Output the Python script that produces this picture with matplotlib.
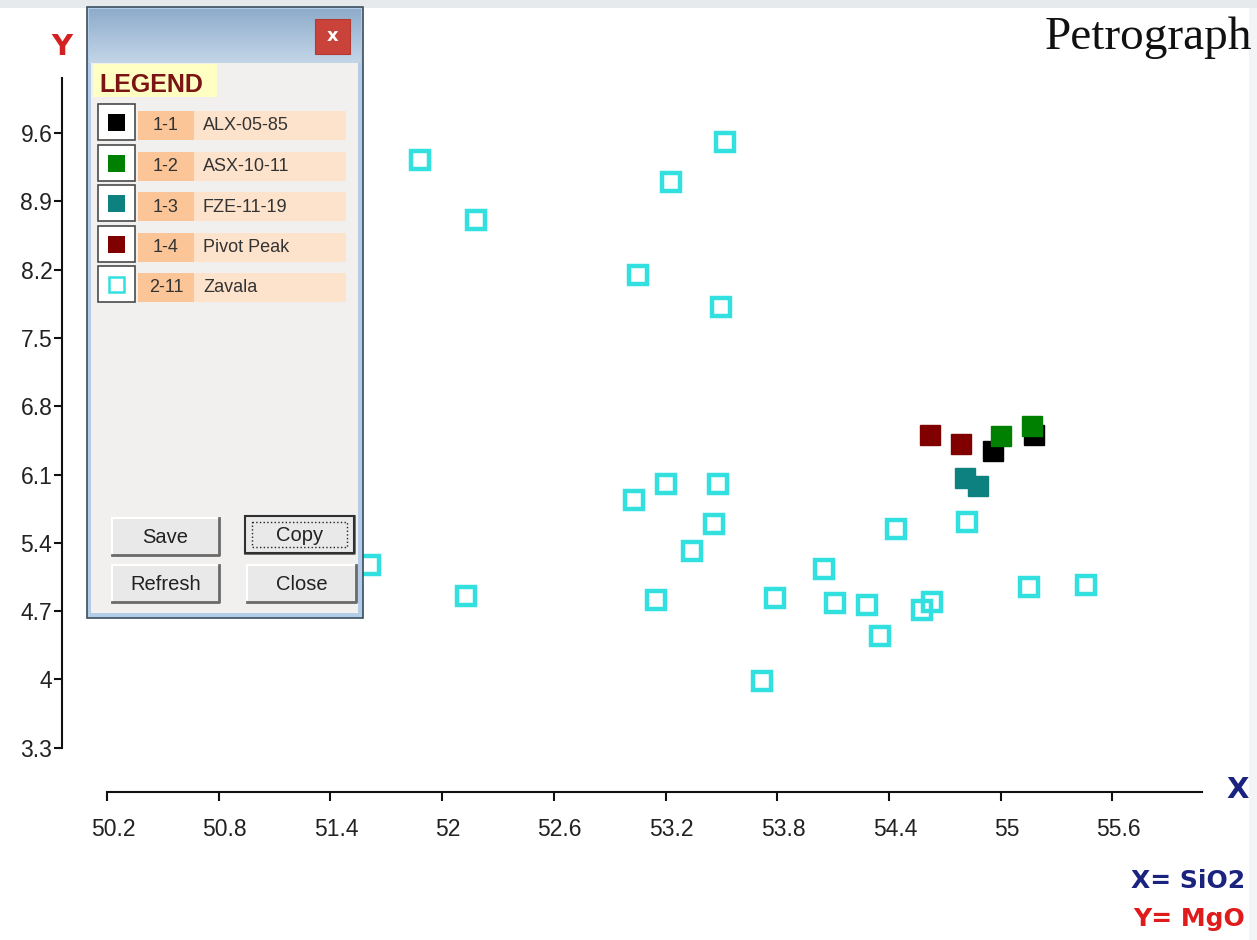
import numpy as np
import matplotlib.pyplot as plt
from matplotlib.patches import Rectangle
from matplotlib.colors import LinearSegmentedColormap
from matplotlib.transforms import ScaledTranslation

# values (X = SiO2, Y = MgO)
zavala_sio2 = [51.88, 52.18, 53.52, 53.23, 53.05, 53.50, 53.03, 53.20, 53.48, 53.46, 53.34, 51.61, 52.13,
               53.15, 53.79, 53.72, 54.05, 54.11, 54.28, 54.35, 54.44, 54.58, 54.63, 54.82, 55.15, 55.46]
zavala_mgo = [9.32, 8.71, 9.51, 9.10, 8.15, 7.82, 5.84, 6.00, 6.00, 5.59, 5.32, 5.17, 4.85,
              4.81, 4.83, 3.98, 5.13, 4.78, 4.76, 4.44, 5.54, 4.71, 4.79, 5.61, 4.95, 4.97]
alx_sio2 = [54.96, 55.18]
alx_mgo = [6.34, 6.51]
asx_sio2 = [55.00, 55.17]
asx_mgo = [6.49, 6.60]
fze_sio2 = [54.81, 54.88]
fze_mgo = [6.06, 5.98]
pivot_sio2 = [54.62, 54.79]
pivot_mgo = [6.51, 6.41]

x_ticks = [50.2, 50.8, 51.4, 52.0, 52.6, 53.2, 53.8, 54.4, 55.0, 55.6]
x_ticklabels = ['50.2', '50.8', '51.4', '52', '52.6', '53.2', '53.8', '54.4', '55', '55.6']
y_ticks = [3.3, 4.0, 4.7, 5.4, 6.1, 6.8, 7.5, 8.2, 8.9, 9.6]
y_ticklabels = ['3.3', '4', '4.7', '5.4', '6.1', '6.8', '7.5', '8.2', '8.9', '9.6']

legend_codes = ['1-1', '1-2', '1-3', '1-4', '2-11']
legend_names = ['ALX-05-85', 'ASX-10-11', 'FZE-11-19', 'Pivot Peak', 'Zavala']
legend_colors = ['#000000', '#008000', '#0d8080', '#800000', '#33e0e0']
buttons = ['Save', 'Copy', 'Refresh', 'Close']

W, H = 1257, 940
fig = plt.figure(figsize=(W / 100, H / 100), dpi=100)
fig.patch.set_facecolor('white')

# main plot area (pixel frame of the screenshot)
ax = fig.add_axes([62 / W, 1 - 792 / H, (1202 - 62) / W, (792 - 78) / H])
ax.set_zorder(1)
ax.patch.set_alpha(0)
ax.set_xlim(49.958, 56.082)
ax.set_ylim(2.846, 10.164)

cyan = legend_colors[4]
ax.plot(zavala_sio2, zavala_mgo, 's', ms=12.5, mfc='none', mec=cyan, mew=3.2, clip_on=False)
ax.plot(alx_sio2, alx_mgo, 's', ms=15, color=legend_colors[0], mew=1)
ax.plot(asx_sio2, asx_mgo, 's', ms=15, color=legend_colors[1], mew=1)
ax.plot(fze_sio2, fze_mgo, 's', ms=15, color=legend_colors[2], mew=1)
ax.plot(pivot_sio2, pivot_mgo, 's', ms=15, color=legend_colors[3], mew=1)

for s in ['top', 'right']:
    ax.spines[s].set_visible(False)
ax.spines['left'].set_bounds(3.3, 10.164)
ax.spines['bottom'].set_bounds(50.2, 56.082)
for s in ['left', 'bottom']:
    ax.spines[s].set_linewidth(1.5)
    ax.spines[s].set_color('#111111')

ax.set_xticks(x_ticks)
ax.set_xticklabels(x_ticklabels, family='Liberation Sans', fontsize=16.5, color='#222222')
ax.set_yticks(y_ticks)
ax.set_yticklabels(y_ticklabels, family='Liberation Sans', fontsize=16.5, color='#222222')
ax.tick_params(axis='x', length=6.5, width=1.5, pad=12, color='#111111')
ax.tick_params(axis='y', length=6, width=1.5, pad=1, color='#111111')
shift = ScaledTranslation(6 / 100, 0, fig.dpi_scale_trans)
for lab in ax.get_xticklabels():
    lab.set_transform(lab.get_transform() + shift)

# overlay in screen pixels for labels and the legend window
ov = fig.add_axes([0, 0, 1, 1])
ov.set_zorder(5)
ov.patch.set_alpha(0)
ov.axis('off')

ov.add_patch(Rectangle((0, 0), W, 8, color='#e6eaed', lw=0))
ov.add_patch(Rectangle((1249, 8), 8, H, color='#f2f4f6', lw=0))

ov.text(1252, 49, 'Petrograph', family='Liberation Serif', fontsize=34, ha='right', va='baseline', color='#111111')
ov.text(62, 47, 'Y', fontsize=21, weight='bold', color='#d42020', ha='center', va='center')
ov.text(1238, 790, 'X', fontsize=21, weight='bold', color='#1a237e', ha='center', va='center')
ov.text(1245, 881, 'X= SiO2', fontsize=18, weight='bold', color='#1a237e', ha='right', va='center')
ov.text(1245, 919, 'Y= MgO', fontsize=18, weight='bold', color='#e01b1b', ha='right', va='center')

# legend window
ov.add_patch(Rectangle((87, 7), 276, 611, fc='#b3cde8', ec='#3c4e5e', lw=1.2))
title_cmap = LinearSegmentedColormap.from_list('title', ['#8faccb', '#c3d6e8'])
ov.imshow(np.linspace(0, 1, 60).reshape(-1, 1), cmap=title_cmap, aspect='auto',
          extent=(89, 361, 63, 9), origin='upper', zorder=1)
ov.add_patch(Rectangle((91, 63), 267, 550, fc='#f1f0ef', lw=0, zorder=2))
ov.add_patch(Rectangle((315, 19), 35, 35, fc='#c9433b', ec='#b23a33', lw=0.8, zorder=2))
ov.text(332.5, 36, 'x', color='white', fontsize=13, weight='bold', ha='center', va='center', zorder=3)

ov.add_patch(Rectangle((93, 64), 124, 33, fc='#ffffc4', lw=0, zorder=2))
ov.text(99, 85, 'LEGEND', family='Liberation Sans', fontsize=18, weight='bold', color='#7b1414',
        ha='left', va='center', zorder=3)

for i, (code, name, col) in enumerate(zip(legend_codes, legend_names, legend_colors)):
    c = 122 + 40.5 * i
    ov.add_patch(Rectangle((98, c - 18), 37, 36, fc='white', ec='#4a4a4a', lw=1.2, zorder=2))
    ov.add_patch(Rectangle((138, c - 11), 56, 29, fc='#fbc597', lw=0, zorder=2))
    ov.add_patch(Rectangle((194, c - 11), 152, 29, fc='#fde2cc', lw=0, zorder=2))
    if i == 4:
        ov.add_patch(Rectangle((109, c - 7), 15, 15, fc='white', ec=col, lw=1.8, zorder=3))
    else:
        ov.add_patch(Rectangle((108, c - 8), 17, 17, fc=col, lw=0, zorder=3))
    ov.text(166, c + 4, code, family='Liberation Sans', fontsize=13, color='#333333',
            ha='center', va='center', zorder=3)
    ov.text(203, c + 4, name, family='Liberation Sans', fontsize=13, color='#333333',
            ha='left', va='center', zorder=3)

btn_boxes = [(112, 518, 219, 555), (245, 516, 354, 553), (112, 565, 219, 602), (247, 565, 356, 602)]
for label, (x0, y0, x1, y1) in zip(buttons, btn_boxes):
    ov.add_patch(Rectangle((x0, y0), x1 - x0, y1 - y0, fc='#e9e9e9', lw=0, zorder=2))
    ov.plot([x0, x1], [y0, y0], color='white', lw=1.5, zorder=3)
    ov.plot([x0, x0], [y0, y1], color='white', lw=1.5, zorder=3)
    ov.plot([x0, x1, x1], [y1, y1, y0], color='#6a6a6a', lw=2, zorder=3)
    if label == 'Copy':
        ov.add_patch(Rectangle((x0, y0), x1 - x0, y1 - y0, fc='none', ec='#303030', lw=1.5, zorder=4))
        ov.add_patch(Rectangle((x0 + 7, y0 + 6), x1 - x0 - 14, y1 - y0 - 12, fc='none', ec='#222222',
                               lw=1, ls=':', zorder=4))
    ov.text((x0 + x1) / 2, (y0 + y1) / 2 + 1, label, family='Liberation Sans', fontsize=14.5,
            color='#222222', ha='center', va='center', zorder=5)

ov.set_xlim(0, W)
ov.set_ylim(H, 0)

fig.savefig('out.png', dpi=100)
